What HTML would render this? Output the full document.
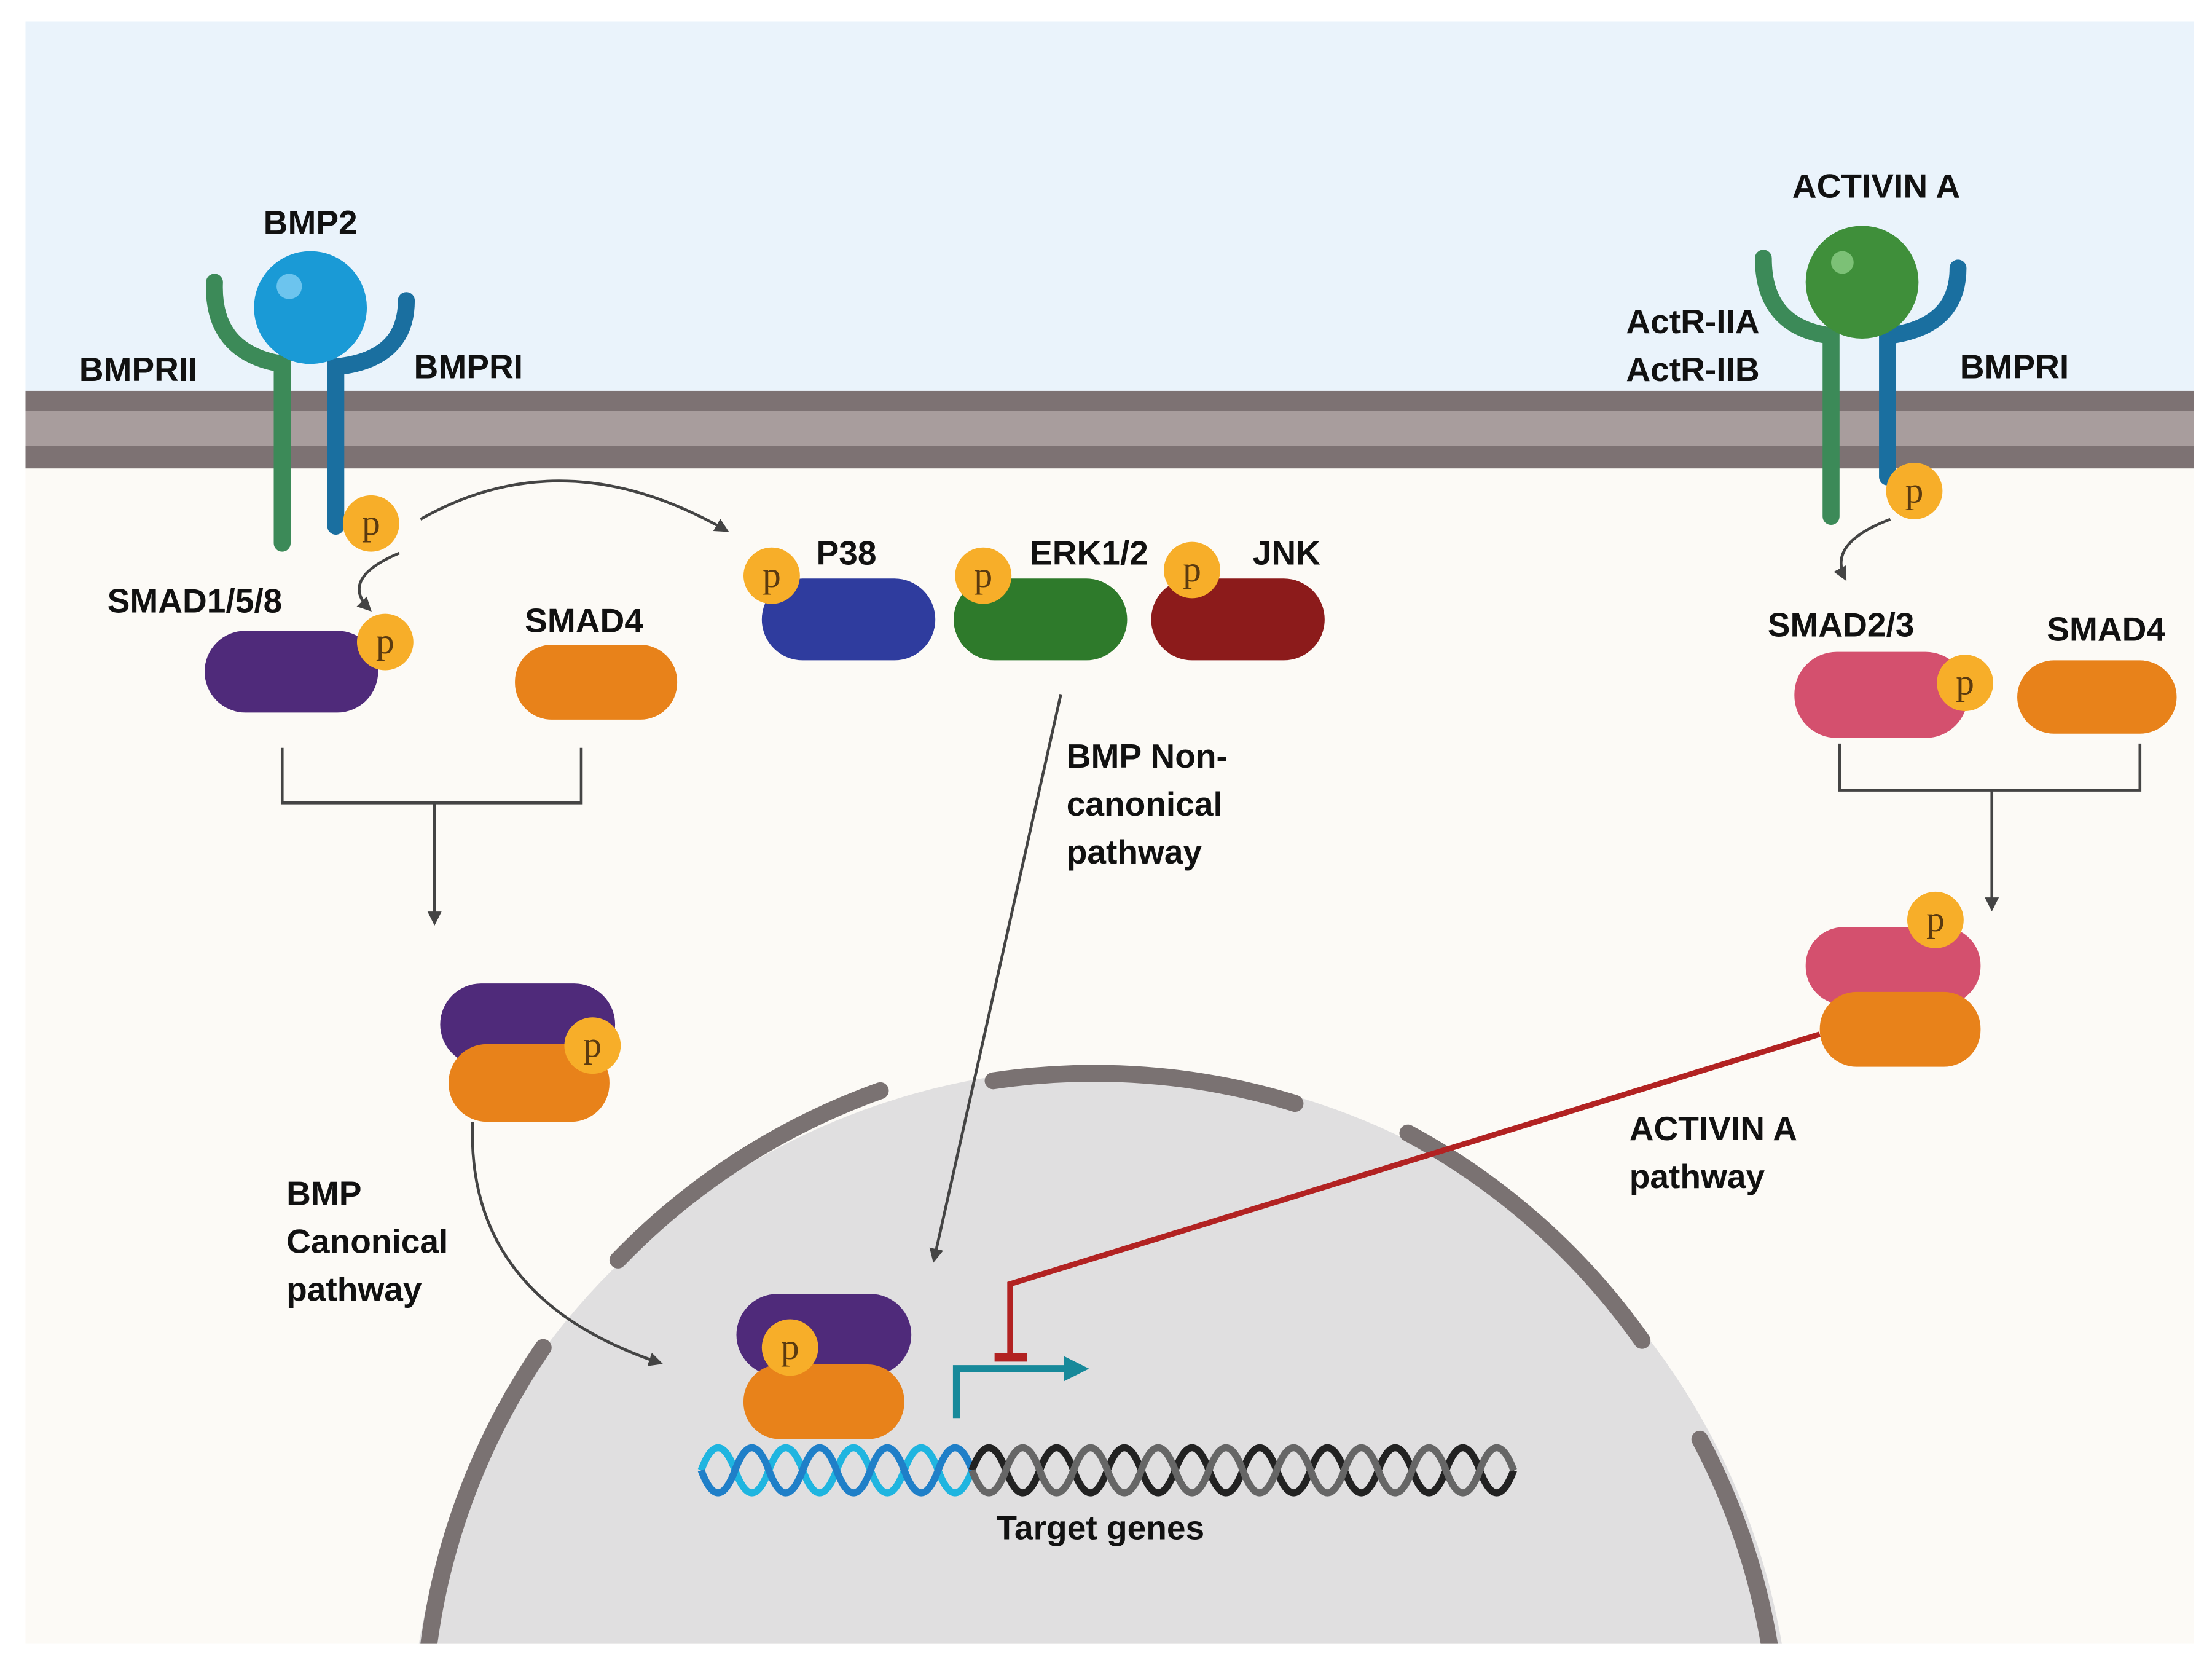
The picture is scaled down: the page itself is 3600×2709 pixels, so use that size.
<!DOCTYPE html>
<html><head><meta charset="utf-8"><style>
html,body{margin:0;padding:0;background:#fff;width:3600px;height:2709px;overflow:hidden;}
svg{display:block;}
text{font-family:"Liberation Sans",sans-serif;font-weight:bold;fill:#111;}
.p{font-family:"Liberation Serif",serif;font-weight:normal;fill:#5a3a10;font-size:26px;}
</style></head><body>
<svg width="3600" height="2709" viewBox="0 0 1568 1180" xmlns="http://www.w3.org/2000/svg">
<defs>
<marker id="ah" markerWidth="10" markerHeight="10" refX="8" refY="5" orient="auto" markerUnits="userSpaceOnUse">
<path d="M0,0 L10,5 L0,10 z" fill="#444"/></marker>
<marker id="ta" markerWidth="18" markerHeight="18" refX="4" refY="9" orient="auto" markerUnits="userSpaceOnUse">
<path d="M0,0 L18,9 L0,18 z" fill="#17899a"/></marker>
<clipPath id="cl"><rect x="18" y="15" width="1537" height="1150"/></clipPath>
</defs>
<rect width="1568" height="1180" fill="#fff"/>
<g clip-path="url(#cl)">
<rect x="18" y="15" width="1537" height="270" fill="#eaf3fb"/>
<rect x="18" y="330" width="1537" height="840" fill="#fcfaf6"/>
<rect x="18" y="277" width="1537" height="14" fill="#7d7273"/>
<rect x="18" y="291" width="1537" height="25" fill="#a89d9d"/>
<rect x="18" y="316" width="1537" height="16" fill="#7d7273"/>
<circle cx="780" cy="1247" r="490" fill="#e0dfe0"/>
<g fill="none" stroke="#7a7272" stroke-width="12" stroke-linecap="round">
<path d="M704,766 A484,484 0 0 1 918,782"/>
<path d="M438,893 A484,484 0 0 1 624,773"/>
<path d="M304,1165 A484,484 0 0 1 385,955"/>
<path d="M998,803 A484,484 0 0 1 1164,950"/>
<path d="M1205,1020 A484,484 0 0 1 1255,1170"/>
</g>
</g>
<!-- BMP receptors -->
<path d="M152,200 Q150,250 200,258 L200,385" fill="none" stroke="#3c8a58" stroke-width="12" stroke-linecap="round"/>
<path d="M288,213 Q288,255 238,260 L238,373" fill="none" stroke="#1a6fa0" stroke-width="12" stroke-linecap="round"/>
<circle cx="220" cy="218" r="40" fill="#1a9ad6"/>
<circle cx="205" cy="203" r="9" fill="#6cc4ee"/>
<text x="220" y="166" font-size="24" text-anchor="middle">BMP2</text>
<text x="98" y="270" font-size="24" text-anchor="middle">BMPRII</text>
<text x="332" y="268" font-size="24" text-anchor="middle">BMPRI</text>
<path d="M298,368 Q400,310 515,376" fill="none" stroke="#444" stroke-width="2" marker-end="url(#ah)"/>
<path d="M283,392 Q240,410 262,432" fill="none" stroke="#444" stroke-width="2" marker-end="url(#ah)"/>
<text x="138" y="434" font-size="24" text-anchor="middle">SMAD1/5/8</text>
<rect x="145" y="447" width="123" height="58" rx="29" fill="#4f2a7a"/>
<text x="414" y="448" font-size="24" text-anchor="middle">SMAD4</text>
<rect x="365" y="457" width="115" height="53" rx="26" fill="#e8821a"/>
<path d="M200,530 L200,569 L412,569 L412,530" fill="none" stroke="#444" stroke-width="2"/>
<path d="M308,569 L308,654" stroke="#444" stroke-width="2" marker-end="url(#ah)"/>
<rect x="312" y="697" width="124" height="58" rx="29" fill="#4f2a7a"/>
<rect x="318" y="740" width="114" height="55" rx="27" fill="#e8821a"/>
<path d="M335,795 Q330,920 468,966" fill="none" stroke="#444" stroke-width="2" marker-end="url(#ah)"/>
<text font-size="24"><tspan x="203" y="854">BMP</tspan><tspan x="203" y="888">Canonical</tspan><tspan x="203" y="922">pathway</tspan></text>
<rect x="540" y="410" width="123" height="58" rx="29" fill="#2f3c9e"/>
<rect x="676" y="410" width="123" height="58" rx="29" fill="#2e7a2b"/>
<rect x="816" y="410" width="123" height="58" rx="29" fill="#8c1b1b"/>
<text x="600" y="400" font-size="24" text-anchor="middle">P38</text>
<text x="772" y="400" font-size="24" text-anchor="middle">ERK1/2</text>
<text x="912" y="400" font-size="24" text-anchor="middle">JNK</text>
<path d="M752,492 L662,893" stroke="#444" stroke-width="2" marker-end="url(#ah)"/>
<text font-size="24"><tspan x="756" y="544">BMP Non-</tspan><tspan x="756" y="578">canonical</tspan><tspan x="756" y="612">pathway</tspan></text>
<rect x="522" y="917" width="124" height="58" rx="29" fill="#4f2a7a"/>
<rect x="527" y="967" width="114" height="53" rx="26" fill="#e8821a"/>
<!-- DNA -->
<g fill="none" stroke-width="5">
<path d="M497,1042 q12,-32 24,0 t24,0 t24,0 t24,0 t24,0 t24,0 t24,0 t24,0" stroke="#1fb5e0"/>
<path d="M497,1042 q12,32 24,0 t24,0 t24,0 t24,0 t24,0 t24,0 t24,0 t24,0" stroke="#1f7fc8"/>
<path d="M689,1042 q12,-32 24,0 t24,0 t24,0 t24,0 t24,0 t24,0 t24,0 t24,0 t24,0 t24,0 t24,0 t24,0 t24,0 t24,0 t24,0 t24,0" stroke="#222"/>
<path d="M689,1042 q12,32 24,0 t24,0 t24,0 t24,0 t24,0 t24,0 t24,0 t24,0 t24,0 t24,0 t24,0 t24,0 t24,0 t24,0 t24,0 t24,0" stroke="#666"/>
</g>
<text x="780" y="1091" font-size="24" text-anchor="middle">Target genes</text>
<path d="M678,1005 L678,970 L758,970" fill="none" stroke="#17899a" stroke-width="5" marker-end="url(#ta)"/>
<path d="M1290,733 L716,910 L716,962" fill="none" stroke="#b22222" stroke-width="4"/>
<path d="M705,962 L728,962" stroke="#b22222" stroke-width="6"/>
<!-- Activin side -->
<path d="M1250,183 Q1250,232 1298,238 L1298,366" fill="none" stroke="#3c8a58" stroke-width="12" stroke-linecap="round"/>
<path d="M1388,190 Q1388,232 1338,238 L1338,338" fill="none" stroke="#1a6fa0" stroke-width="12" stroke-linecap="round"/>
<circle cx="1320" cy="200" r="40" fill="#3f8f3a"/>
<circle cx="1306" cy="186" r="8" fill="#7cc176"/>
<text x="1330" y="140" font-size="24" text-anchor="middle">ACTIVIN A</text>
<text x="1200" y="236" font-size="24" text-anchor="middle">ActR-IIA</text>
<text x="1200" y="270" font-size="24" text-anchor="middle">ActR-IIB</text>
<text x="1428" y="268" font-size="24" text-anchor="middle">BMPRI</text>
<path d="M1340,368 Q1295,385 1308,410" fill="none" stroke="#444" stroke-width="2" marker-end="url(#ah)"/>
<text x="1305" y="451" font-size="24" text-anchor="middle">SMAD2/3</text>
<rect x="1272" y="462" width="123" height="61" rx="30" fill="#d4506e"/>
<text x="1493" y="454" font-size="24" text-anchor="middle">SMAD4</text>
<rect x="1430" y="468" width="113" height="52" rx="26" fill="#e8821a"/>
<path d="M1304,527 L1304,560 L1517,560 L1517,527" fill="none" stroke="#444" stroke-width="2"/>
<path d="M1412,560 L1412,644" stroke="#444" stroke-width="2" marker-end="url(#ah)"/>
<rect x="1280" y="657" width="124" height="55" rx="27" fill="#d4506e"/>
<rect x="1290" y="703" width="114" height="53" rx="26" fill="#e8821a"/>
<text font-size="24"><tspan x="1155" y="808">ACTIVIN A</tspan><tspan x="1155" y="842">pathway</tspan></text>
<g fill="#f7ae29">
<circle cx="263" cy="371" r="20"/><circle cx="273" cy="455" r="20"/><circle cx="420" cy="741" r="20"/>
<circle cx="547" cy="408" r="20"/><circle cx="697" cy="408" r="20"/><circle cx="845" cy="404" r="20"/>
<circle cx="560" cy="955" r="20"/><circle cx="1357" cy="348" r="20"/><circle cx="1393" cy="484" r="20"/>
<circle cx="1372" cy="652" r="20"/>
</g>
<g text-anchor="middle">
<text class="p" x="263" y="379">p</text><text class="p" x="273" y="463">p</text><text class="p" x="420" y="749">p</text>
<text class="p" x="547" y="416">p</text><text class="p" x="697" y="416">p</text><text class="p" x="845" y="412">p</text>
<text class="p" x="560" y="963">p</text><text class="p" x="1357" y="356">p</text><text class="p" x="1393" y="492">p</text>
<text class="p" x="1372" y="660">p</text>
</g>
</svg>
</body></html>
